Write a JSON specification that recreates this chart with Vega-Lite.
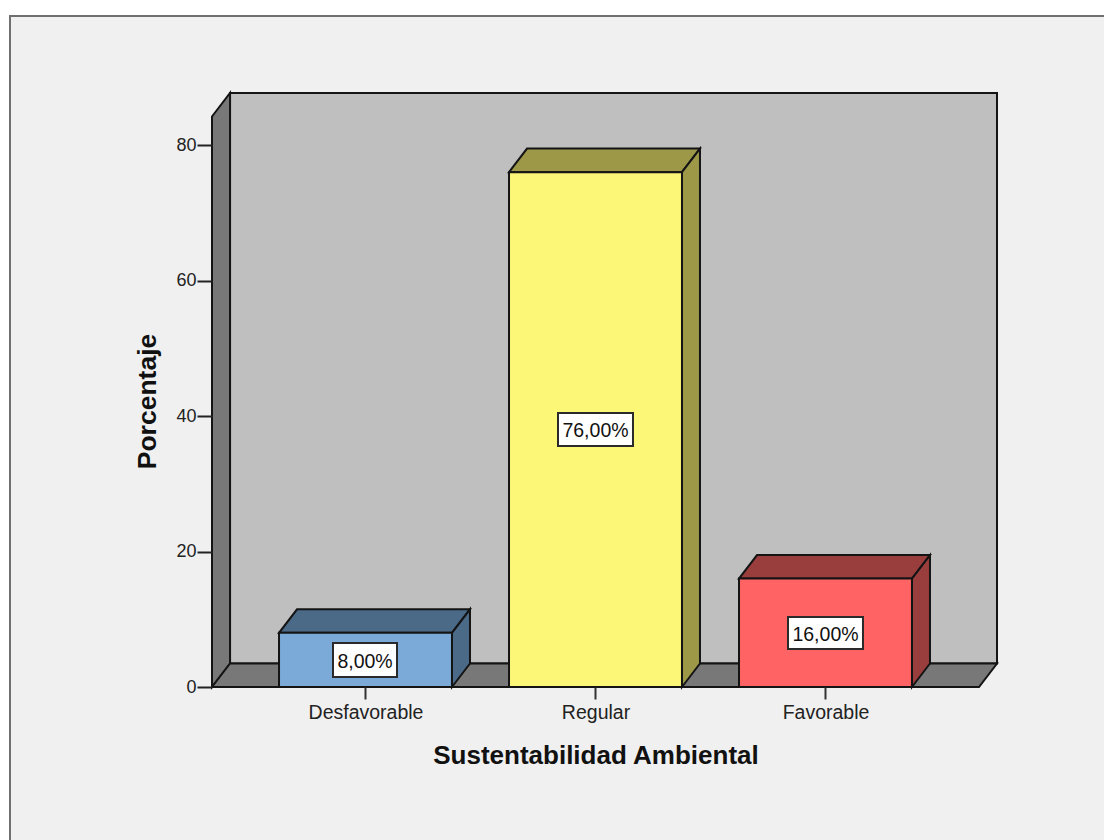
{
"$schema":"https://vega.github.io/schema/vega-lite/v6.json",
"width":785,"height":594,
"autosize":{"type":"none"},
"padding":{"left":212,"top":93,"right":107,"bottom":153},
"background":"#ffffff",
"config":{"view":{"stroke":null},"font":"Liberation Sans"},
"layer":[
{"data":{"values":[{"x":-0.5457,"x2":4.6,"y":-30,"y2":99.04}]},
 "mark":{"type":"rect","fill":"#f0f0f0","stroke":"#707070","strokeWidth":2},
 "encoding":{
  "x":{"field":"x","type":"quantitative","scale":{"domain":[0.3326,3.7457],"nice":false,"zero":false},
   "axis":{"zindex":1,"values":[1,2,3],"labelExpr":"datum.value==1?'Desfavorable':datum.value==2?'Regular':'Favorable'","grid":false,"domain":false,"tickSize":12,"tickColor":"#333333","tickWidth":2,"labelFontSize":19.5,"labelFont":"Liberation Sans","labelColor":"#222222","labelPadding":4,"title":"Sustentabilidad Ambiental","titleFont":"Liberation Sans","titleFontSize":26,"titleFontWeight":"bold","titleColor":"#111111","titleX":383.5,"titleY":68,"titleBaseline":"middle","titleAlign":"center","labelFlush":false,"labelOverlap":false}},
  "x2":{"field":"x2"},
  "y":{"field":"y","type":"quantitative","scale":{"domain":[0,87.68],"nice":false,"zero":false},
   "axis":{"zindex":1,"values":[0,20,40,60,80],"grid":false,"domain":false,"tickSize":15,"tickColor":"#222222","tickWidth":2,"labelFontSize":18,"labelFont":"Liberation Sans","labelColor":"#222222","labelPadding":1,"title":"Porcentaje","titleFont":"Liberation Sans","titleFontSize":26.5,"titleFontWeight":"bold","titleColor":"#111111","titleX":-65,"titleY":308,"titleBaseline":"middle","titleAlign":"center"}},
  "y2":{"field":"y2"}
 }},
{"data":{"values":[
 {"face":"back","x":0.411,"y":3.47,"y2":87.68},{"face":"back","x":3.7457,"y":3.47,"y2":87.68},
 {"face":"left","x":0.3326,"y":0,"y2":84.21},{"face":"left","x":0.411,"y":3.47,"y2":87.68},
 {"face":"floor","x":0.3326,"y":0,"y2":0},{"face":"floor","x":0.411,"y":0,"y2":3.47},{"face":"floor","x":3.6674,"y":0,"y2":3.47},{"face":"floor","x":3.7457,"y":3.47,"y2":3.47},
 {"face":"top1","x":0.624,"y":8,"y2":8},{"face":"top1","x":0.7023,"y":8,"y2":11.47},{"face":"top1","x":1.376,"y":8,"y2":11.47},{"face":"top1","x":1.4543,"y":11.47,"y2":11.47},
 {"face":"side1","x":1.376,"y":0,"y2":8},{"face":"side1","x":1.4543,"y":3.47,"y2":11.47},
 {"face":"front1","x":0.624,"y":0,"y2":8},{"face":"front1","x":1.376,"y":0,"y2":8},
 {"face":"top2","x":1.624,"y":76,"y2":76},{"face":"top2","x":1.7023,"y":76,"y2":79.47},{"face":"top2","x":2.376,"y":76,"y2":79.47},{"face":"top2","x":2.4543,"y":79.47,"y2":79.47},
 {"face":"side2","x":2.376,"y":0,"y2":76},{"face":"side2","x":2.4543,"y":3.47,"y2":79.47},
 {"face":"front2","x":1.624,"y":0,"y2":76},{"face":"front2","x":2.376,"y":0,"y2":76},
 {"face":"top3","x":2.624,"y":16,"y2":16},{"face":"top3","x":2.7023,"y":16,"y2":19.47},{"face":"top3","x":3.376,"y":16,"y2":19.47},{"face":"top3","x":3.4543,"y":19.47,"y2":19.47},
 {"face":"side3","x":3.376,"y":0,"y2":16},{"face":"side3","x":3.4543,"y":3.47,"y2":19.47},
 {"face":"front3","x":2.624,"y":0,"y2":16},{"face":"front3","x":3.376,"y":0,"y2":16}
 ]},
 "mark":{"type":"area","orient":"vertical","stroke":"#141414","strokeWidth":2,"strokeJoin":"miter","opacity":1,"fillOpacity":1},
 "encoding":{
  "x":{"field":"x","type":"quantitative"},
  "y":{"field":"y","type":"quantitative","stack":null},
  "y2":{"field":"y2"},
  "color":{"field":"face","type":"nominal","legend":null,"scale":{
   "domain":["back","left","floor","top1","side1","front1","top2","side2","front2","top3","side3","front3"],
   "range":["#bfbfbf","#787878","#787878","#4a6a88","#4a6a88","#7ba9d8","#9c9848","#9c9848","#fcf776","#9a3d3d","#9a3d3d","#ff6363"]}}
 }},
{"data":{"values":[
 {"x":0.8587,"x2":1.137,"y":1.48,"y2":6.49},
 {"x":1.837,"x2":2.163,"y":35.57,"y2":40.44},
 {"x":2.837,"x2":3.163,"y":5.61,"y2":10.33}]},
 "mark":{"type":"rect","fill":"#ffffff","stroke":"#2a2a2a","strokeWidth":2},
 "encoding":{"x":{"field":"x","type":"quantitative"},"x2":{"field":"x2"},"y":{"field":"y","type":"quantitative"},"y2":{"field":"y2"}}},
{"data":{"values":[
 {"x":0.998,"y":3.65,"label":"8,00%"},
 {"x":2.0,"y":37.75,"label":"76,00%"},
 {"x":3.0,"y":7.65,"label":"16,00%"}]},
 "mark":{"type":"text","fontSize":19.5,"font":"Liberation Sans","color":"#111111","align":"center","baseline":"middle"},
 "encoding":{"x":{"field":"x","type":"quantitative"},"y":{"field":"y","type":"quantitative"},"text":{"field":"label"}}}
]
}
